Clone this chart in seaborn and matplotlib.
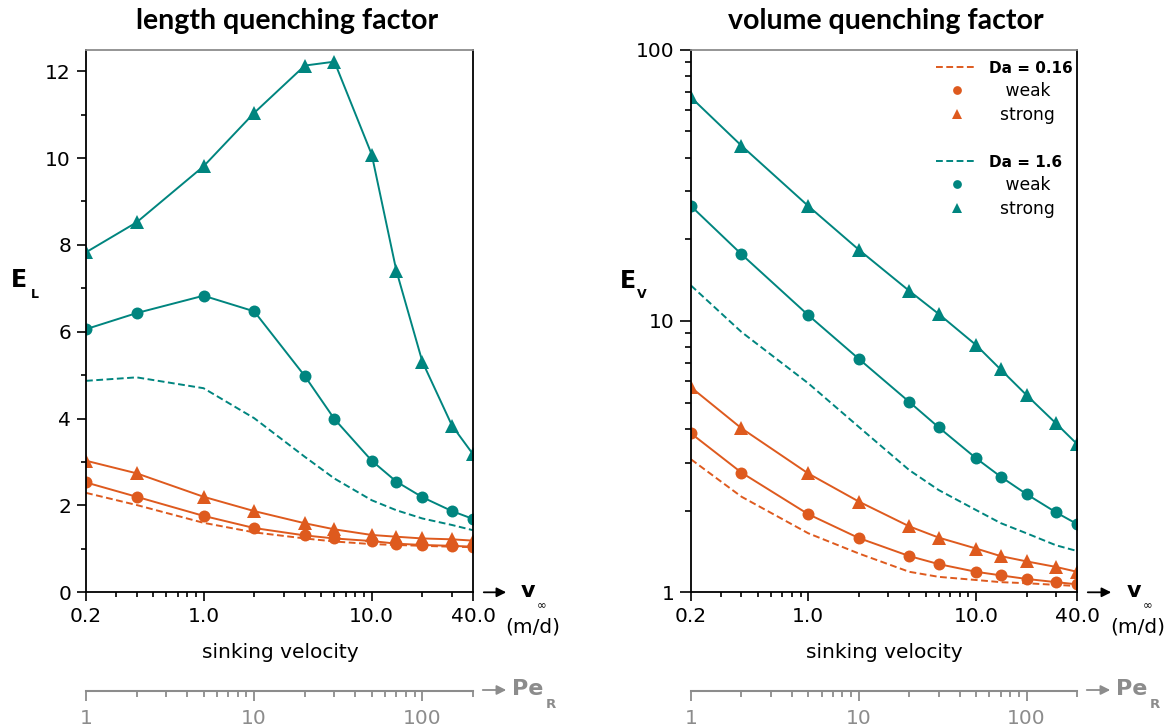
import numpy as np
import pandas as pd
import matplotlib
matplotlib.use("Agg")
import matplotlib.pyplot as plt
import seaborn as sns
from matplotlib.lines import Line2D
from matplotlib.patches import FancyArrowPatch
from matplotlib.ticker import FixedLocator, FixedFormatter, NullFormatter

# ---------------- data ----------------
v = [0.2, 0.4, 1.0, 2.0, 4.0, 6.0, 10.0, 14.0, 20.0, 30.0, 40.0]   # sinking velocity (m/d)
v_ticks = [0.2, 1.0, 10.0, 40.0]
v_ticklabels = ["0.2", "1.0", "10.0", "40.0"]
pe_ticks = [1, 10, 100]
pe_ticklabels = ["1", "10", "100"]

# length quenching factor E_L
EL_teal_strong = [7.83, 8.52, 9.81, 11.04, 12.13, 12.22, 10.08, 7.41, 5.31, 3.84, 3.18]
EL_teal_weak = [6.06, 6.43, 6.83, 6.47, 4.98, 3.99, 3.03, 2.55, 2.19, 1.87, 1.69]
EL_teal_da = [4.87, 4.95, 4.70, 4.01, 3.12, 2.62, 2.12, 1.89, 1.70, 1.55, 1.43]
EL_orange_strong = [3.03, 2.74, 2.20, 1.87, 1.59, 1.45, 1.32, 1.28, 1.24, 1.22, 1.19]
EL_orange_weak = [2.53, 2.20, 1.76, 1.48, 1.31, 1.24, 1.18, 1.12, 1.09, 1.07, 1.05]
EL_orange_da = [2.29, 2.01, 1.60, 1.38, 1.24, 1.17, 1.11, 1.09, 1.07, 1.05, 1.04]

# volume quenching factor E_V
EV_teal_strong = [66.6, 44.2, 26.5, 18.3, 12.9, 10.6, 8.15, 6.63, 5.33, 4.19, 3.52]
EV_teal_weak = [26.5, 17.6, 10.5, 7.25, 5.03, 4.05, 3.12, 2.67, 2.30, 1.97, 1.785]
EV_teal_da = [13.5, 9.1, 5.89, 4.07, 2.82, 2.38, 2.01, 1.80, 1.65, 1.49, 1.42]
EV_orange_strong = [5.69, 4.02, 2.74, 2.16, 1.75, 1.59, 1.45, 1.36, 1.30, 1.24, 1.19]
EV_orange_weak = [3.85, 2.76, 1.94, 1.585, 1.36, 1.27, 1.19, 1.155, 1.12, 1.09, 1.07]
EV_orange_da = [3.09, 2.25, 1.65, 1.39, 1.19, 1.14, 1.11, 1.09, 1.08, 1.065, 1.055]

TEAL = "#00857F"
ORANGE = "#DE5A1E"
GRAY = "#8C8C8C"

sns.set_theme(style="ticks")
plt.rcParams["font.family"] = ["DejaVu Sans"]
plt.rcParams["text.color"] = "black"
plt.rcParams["axes.labelcolor"] = "black"
plt.rcParams["xtick.color"] = "black"
plt.rcParams["ytick.color"] = "black"

W, H = 1176, 728
fig = plt.figure(figsize=(W / 100, H / 100), dpi=100)


def rect(x0, y0, x1, y1):
    return [x0 / W, 1 - y1 / H, (x1 - x0) / W, (y1 - y0) / H]


def fx(x):
    return x / W


def fy(y):
    return 1 - y / H


axL = fig.add_axes(rect(86, 49.5, 473, 592.3))
axR = fig.add_axes(rect(691, 49.5, 1077, 592.3))

DASH = (0, (3.5, 1.8))
LW = 1.4


def draw(ax, ys, color, marker):
    df = pd.DataFrame({"v": v, "E": ys})
    if marker is None:
        sns.lineplot(data=df, x="v", y="E", ax=ax, color=color, linewidth=LW,
                     linestyle=DASH, errorbar=None)
    else:
        ms = 9.8 if marker == "^" else 8.6
        sns.lineplot(data=df, x="v", y="E", ax=ax, color=color, linewidth=LW,
                     marker=marker, markersize=ms, markeredgewidth=0, errorbar=None)


for ax, series in [
    (axL, [(EL_orange_da, ORANGE, None), (EL_orange_weak, ORANGE, "o"), (EL_orange_strong, ORANGE, "^"),
           (EL_teal_da, TEAL, None), (EL_teal_weak, TEAL, "o"), (EL_teal_strong, TEAL, "^")]),
    (axR, [(EV_orange_da, ORANGE, None), (EV_orange_weak, ORANGE, "o"), (EV_orange_strong, ORANGE, "^"),
           (EV_teal_da, TEAL, None), (EV_teal_weak, TEAL, "o"), (EV_teal_strong, TEAL, "^")]),
]:
    for ys, c, m in series:
        draw(ax, ys, c, m)

for ax in (axL, axR):
    ax.set_xscale("log")
    ax.set_xlim(0.2, 40)
    ax.xaxis.set_major_locator(FixedLocator(v_ticks))
    ax.xaxis.set_major_formatter(FixedFormatter(v_ticklabels))
    ax.xaxis.set_minor_locator(FixedLocator([0.3, 0.4, 0.5, 0.6, 0.7, 0.8, 0.9,
                                             2, 3, 4, 5, 6, 7, 8, 9, 20, 30]))
    ax.xaxis.set_minor_formatter(NullFormatter())
    ax.set_xlabel("")
    ax.set_ylabel("")
    for s in ("left", "bottom", "right"):
        ax.spines[s].set_visible(True)
        ax.spines[s].set_color("black")
        ax.spines[s].set_linewidth(1.3)
    ax.spines["top"].set_visible(True)
    ax.spines["top"].set_color(GRAY)
    ax.spines["top"].set_linewidth(1.3)
    ax.tick_params(axis="both", which="major", direction="out", length=6.8, width=1.2,
                   labelsize=14.5, colors="black", pad=4, right=False, top=False)
    ax.tick_params(axis="both", which="minor", direction="out", length=3.5, width=1.2,
                   colors="black", right=False, top=False)
    ax.set_facecolor("white")

axL.set_ylim(0, 12.5)
axL.yaxis.set_major_locator(FixedLocator([0, 2, 4, 6, 8, 10, 12]))
axL.yaxis.set_minor_locator(FixedLocator([1, 3, 5, 7, 9, 11]))
axL.yaxis.set_minor_formatter(NullFormatter())

axR.set_yscale("log")
axR.set_ylim(1, 100)
axR.yaxis.set_major_locator(FixedLocator([1, 10, 100]))
axR.yaxis.set_major_formatter(FixedFormatter(["1", "10", "100"]))
axR.yaxis.set_minor_locator(FixedLocator([2, 3, 4, 5, 6, 7, 8, 9, 20, 30, 40, 50, 60, 70, 80, 90]))
axR.yaxis.set_minor_formatter(NullFormatter())
axR.tick_params(axis="y", which="major", length=8)
axR.tick_params(axis="y", which="minor", length=4)

# legend
hnd = [
    Line2D([], [], color=ORANGE, lw=LW, linestyle=DASH),
    Line2D([], [], color=ORANGE, marker="o", ls="none", ms=6.3, mew=0),
    Line2D([], [], color=ORANGE, marker="^", ls="none", ms=7, mew=0),
    Line2D([], [], ls="none"),
    Line2D([], [], color=TEAL, lw=LW, linestyle=DASH),
    Line2D([], [], color=TEAL, marker="o", ls="none", ms=6.3, mew=0),
    Line2D([], [], color=TEAL, marker="^", ls="none", ms=7, mew=0),
]
lab = ["Da = 0.16", "   weak", "  strong", " ", "Da = 1.6", "   weak", "  strong"]
leg = axR.legend(hnd, lab, loc="upper left", bbox_to_anchor=(fx(936), fy(61)),
                 bbox_transform=fig.transFigure, frameon=False, fontsize=12.3,
                 handlelength=2.4, handletextpad=0.7, labelspacing=0.36,
                 borderpad=0, borderaxespad=0)
for t in leg.get_texts():
    t.set_color("black")
for i in (0, 4):
    leg.get_texts()[i].set_fontweight("bold")
    leg.get_texts()[i].set_fontsize(11)

# titles
fig.text(fx(287.5), fy(21), "length quenching factor", ha="center", va="center",
         fontsize=20.5, fontweight="bold", family=["Lato", "DejaVu Sans"], color="black")
fig.text(fx(885.6), fy(21), "volume quenching factor", ha="center", va="center",
         fontsize=20.5, fontweight="bold", family=["Lato", "DejaVu Sans"], color="black")

# y labels
fig.text(fx(19), fy(280), "E", ha="center", va="center", fontsize=17, fontweight="bold")
fig.text(fx(34.5), fy(295), "L", ha="center", va="center", fontsize=9, fontweight="bold")
fig.text(fx(627.5), fy(280.5), "E", ha="center", va="center", fontsize=17, fontweight="bold")
fig.text(fx(642), fy(294), "V", ha="center", va="center", fontsize=9, fontweight="bold")

# x labels
for cx in (280, 884):
    fig.text(fx(cx), fy(653), "sinking velocity", ha="center", va="center", fontsize=14.5)

# velocity arrows
for x0, x1, vx, mx in [(481, 509, 528, 533), (1085, 1114, 1134, 1138)]:
    fig.add_artist(FancyArrowPatch((fx(x0), fy(592.3)), (fx(x1), fy(592.3)),
                                   transform=fig.transFigure, arrowstyle="-|>",
                                   mutation_scale=14, color="black", lw=1.3))
    fig.text(fx(vx), fy(591), "v", ha="center", va="center", fontsize=16, fontweight="bold")
    fig.text(fx(vx + 14), fy(606), "\u221e", ha="center", va="center", fontsize=8.5)
    fig.text(fx(mx), fy(627), "(m/d)", ha="center", va="center", fontsize=14.5)

# Pe axes
for x0, x1 in [(86, 473), (691, 1077)]:
    pa = fig.add_axes(rect(x0, 689.5, x1, 690.5))
    pa.set_xscale("log")
    pa.set_xlim(1, 200)
    pa.set_yticks([])
    pa.patch.set_visible(False)
    for s in ("left", "right", "top"):
        pa.spines[s].set_visible(False)
    pa.spines["bottom"].set_visible(True)
    pa.spines["bottom"].set_color(GRAY)
    pa.spines["bottom"].set_linewidth(1.5)
    pa.xaxis.set_major_locator(FixedLocator(pe_ticks))
    pa.xaxis.set_major_formatter(FixedFormatter(pe_ticklabels))
    pa.xaxis.set_minor_locator(FixedLocator([2, 3, 4, 5, 6, 7, 8, 9,
                                             20, 30, 40, 50, 60, 70, 80, 90, 200]))
    pa.xaxis.set_minor_formatter(NullFormatter())
    pa.tick_params(axis="x", which="major", direction="out", length=7.5, width=1.3,
                   colors=GRAY, labelsize=14.5, pad=6)
    pa.tick_params(axis="x", which="minor", direction="out", length=4.5, width=1.3, colors=GRAY)
    fig.add_artist(FancyArrowPatch((fx(x1 + 7), fy(690)), (fx(x1 + 36), fy(690)),
                                   transform=fig.transFigure, arrowstyle="-|>",
                                   mutation_scale=14, color=GRAY, lw=1.3))
    fig.text(fx(x1 + 55), fy(689), "Pe", ha="center", va="center", fontsize=16,
             fontweight="bold", color=GRAY)
    fig.text(fx(x1 + 78), fy(705), "R", ha="center", va="center", fontsize=9.5,
             fontweight="bold", color=GRAY)

fig.savefig("out.png", dpi=100, facecolor="white")
